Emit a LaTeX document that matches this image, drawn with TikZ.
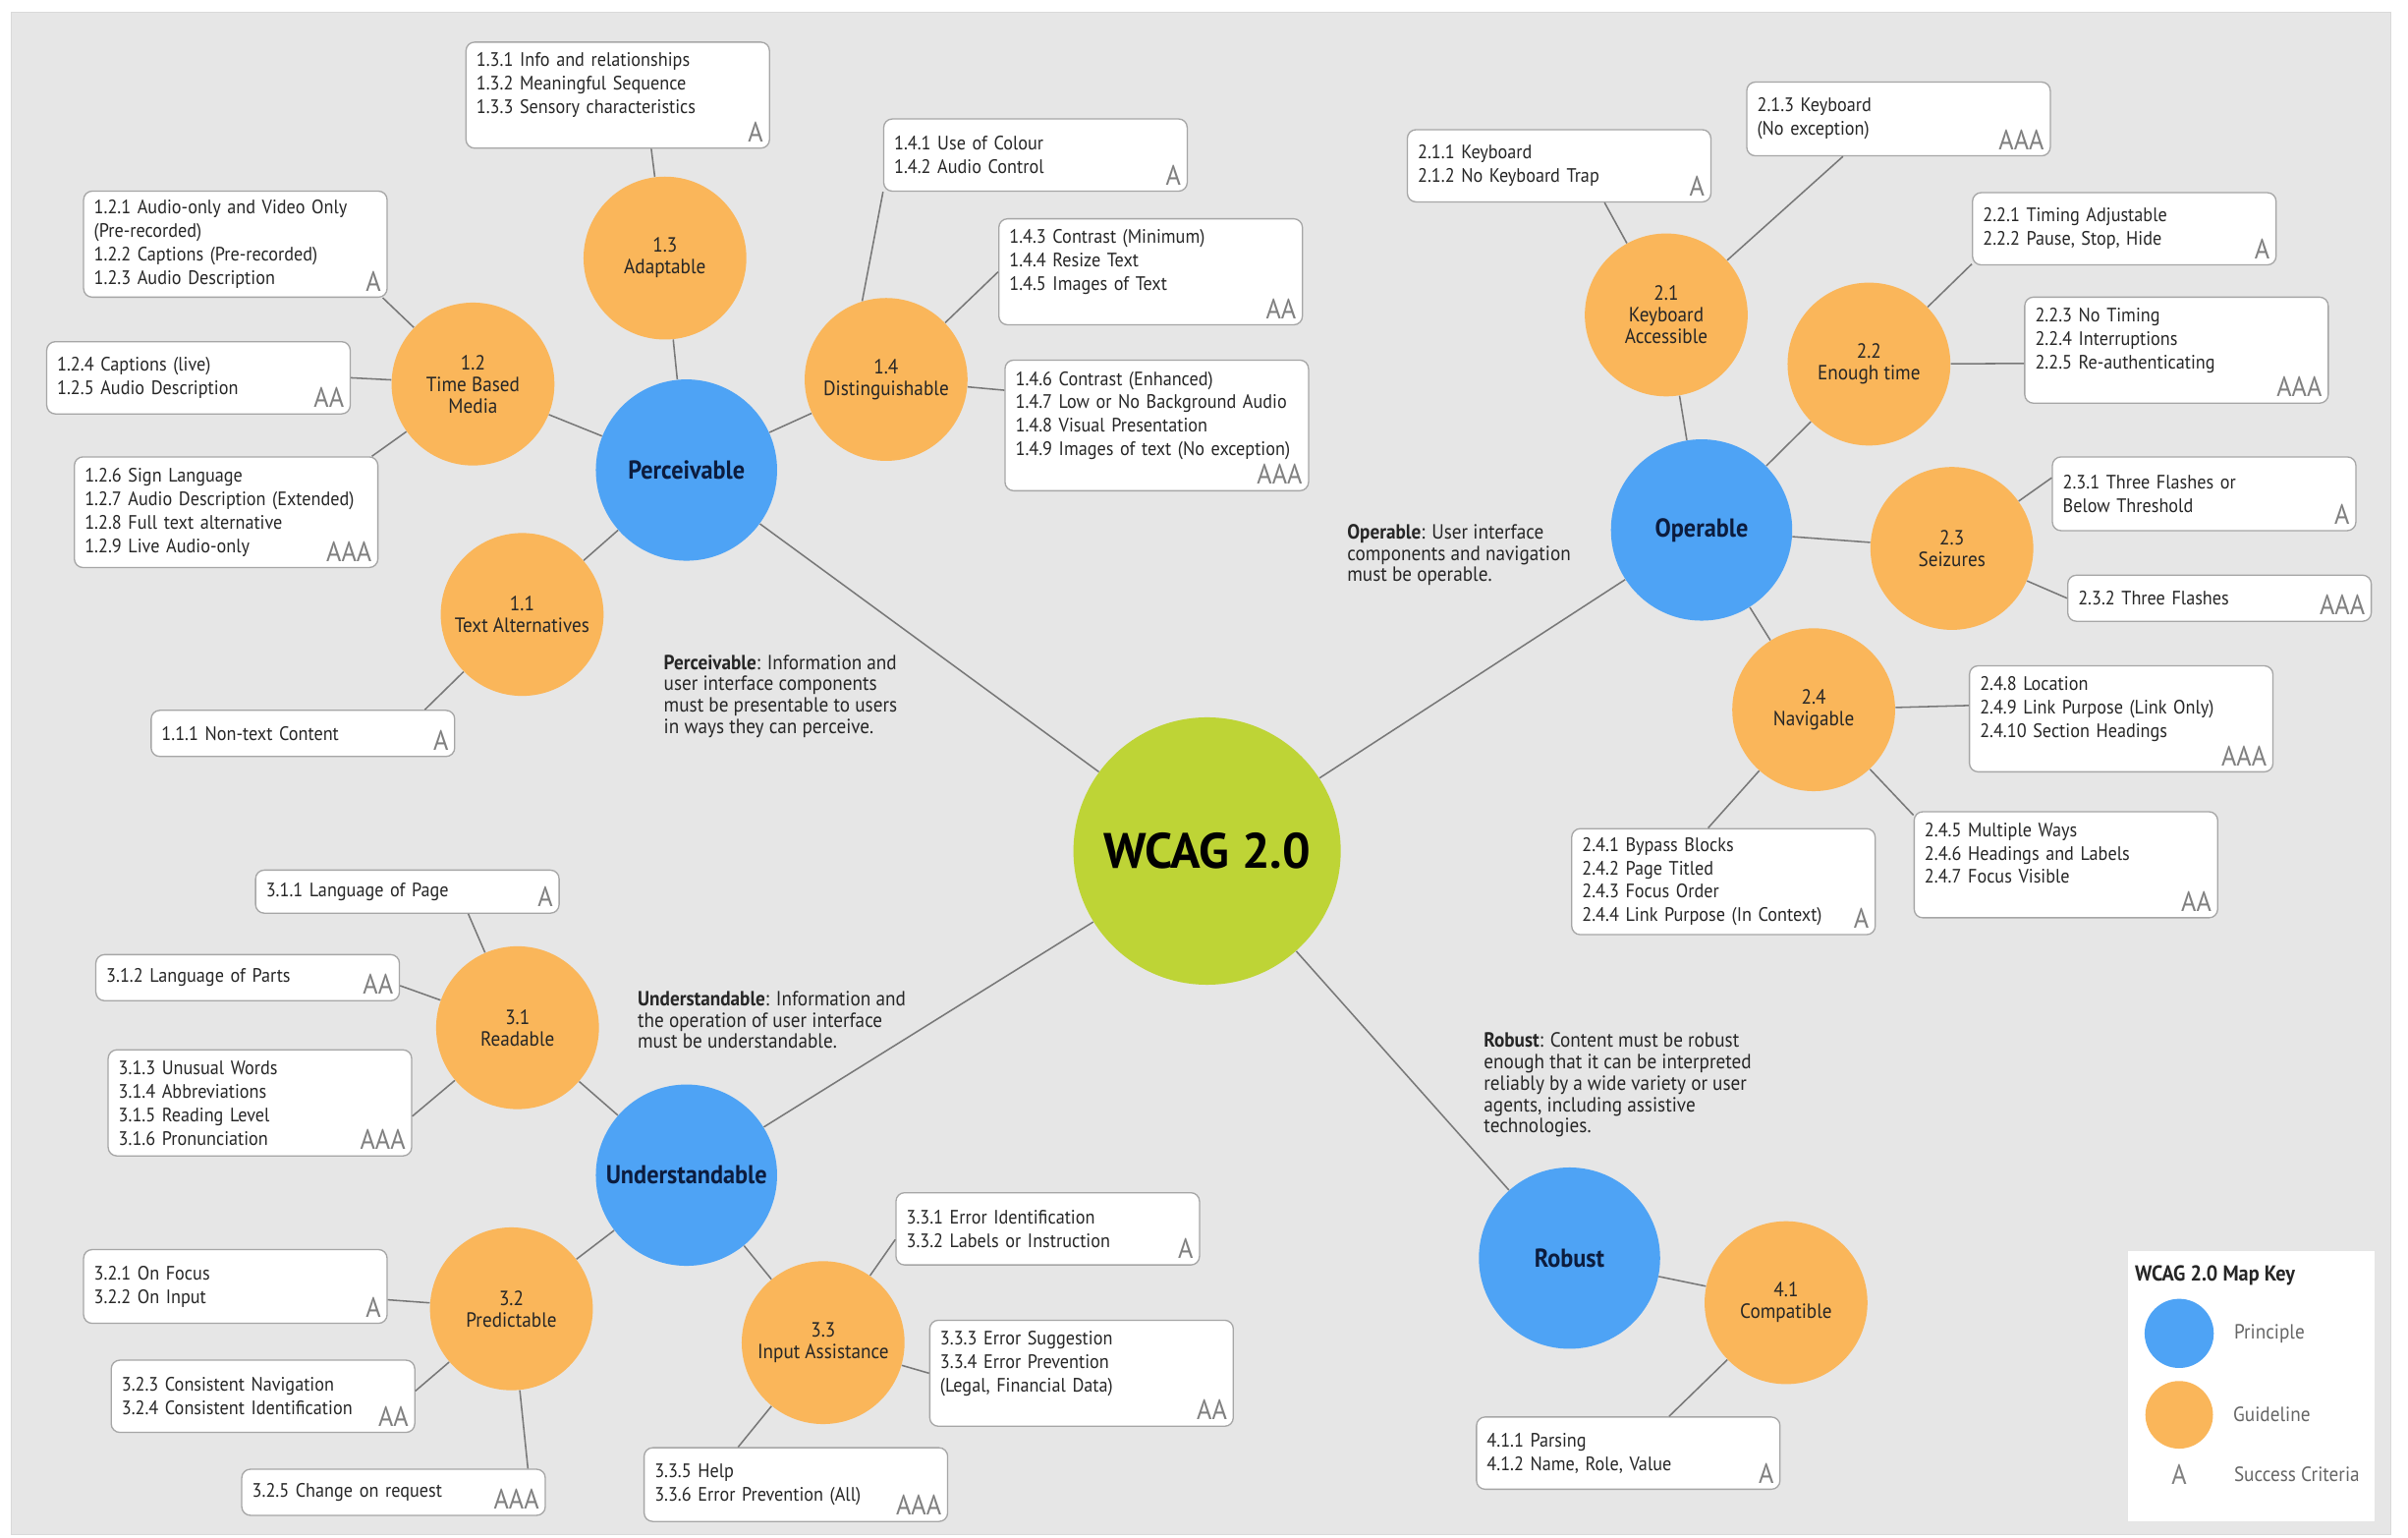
\documentclass[tikz,border=0pt]{standalone}
\usepackage{fontspec}
\setmainfont[FakeStretch=0.92]{PT Sans}
\newfontfamily\titlefont{PT Sans}
\usepackage{tikz}
\usetikzlibrary{positioning}

\definecolor{mapbg}{RGB}{230,230,230}
\definecolor{princblue}{RGB}{78,163,245}
\definecolor{guideorange}{RGB}{250,182,90}
\definecolor{wcaglime}{RGB}{190,212,54}
\definecolor{princtext}{RGB}{12,28,62}
\definecolor{linkgrey}{RGB}{120,120,120}

\begin{document}
\begin{tikzpicture}[x=0.025cm, y=-0.025cm,
    princ/.style={circle, fill=princblue, minimum size=2.95cm, inner sep=0pt,
      text=princtext, font=\bfseries\fontsize{12}{14}\selectfont},
    guide/.style={circle, fill=guideorange, minimum size=2.65cm, inner sep=0pt,
      align=center, text=black!85, font=\fontsize{9.5}{10}\selectfont},
    critbox/.style={draw=black!35, line width=0.6pt, fill=white, rounded corners=4pt,
      anchor=north west, text width=4.6cm, inner xsep=0.17cm, inner ysep=0.1cm,
      align=left, minimum height=#1, text=black!85, font=\fontsize{9}{10.9}\selectfont},
    critbox/.default=0.75cm,
    critlevel/.style={anchor=south east, inner sep=3pt, text=black!50,
      font=\fontsize{13}{13}\selectfont},
    desc/.style={anchor=north west, align=left, inner sep=0pt, text=black!85,
      font=\fontsize{9.5}{9.9}\selectfont},
    keytext/.style={text=black!60, font=\fontsize{9.5}{10}\selectfont},
    link/.style={draw=linkgrey, line width=0.7pt}]
  \useasboundingbox (0,0) rectangle (1568,1001);
  \filldraw[fill=mapbg, draw=black!15] (7,8) rectangle (1557,999);

  % centre and principles
  \node[circle, fill=wcaglime, minimum size=4.35cm,
        font=\titlefont\bfseries\fontsize{23}{26}\selectfont] (wcag) at (786,554) {WCAG 2.0};
  \node[princ] (perc) at (447,306) {Perceivable};
  \node[princ] (oper) at (1108,345) {Operable};
  \node[princ] (under) at (447,765) {Understandable};
  \node[princ] (rob) at (1022,819) {Robust};

  % guidelines
  \node[guide] (g11) at (340,400) {1.1\\Text Alternatives};
  \node[guide] (g12) at (308,250) {1.2\\Time Based\\Media};
  \node[guide] (g13) at (433,168) {1.3\\Adaptable};
  \node[guide] (g14) at (577,247) {1.4\\Distinguishable};
  \node[guide] (g21) at (1085,205) {2.1\\Keyboard\\Accessible};
  \node[guide] (g22) at (1217,237) {2.2\\Enough time};
  \node[guide] (g23) at (1271,357) {2.3\\Seizures};
  \node[guide] (g24) at (1181,462) {2.4\\Navigable};
  \node[guide] (g31) at (337,669) {3.1\\Readable};
  \node[guide] (g32) at (333,852) {3.2\\Predictable};
  \node[guide] (g33) at (536,874) {3.3\\Input Assistance};
  \node[guide] (g41) at (1163,848) {4.1\\Compatible};

  % success criteria, perceivable
  \node[critbox=1.725cm, label={[critlevel]south east:A}] (sc13) at (303,27)
    {1.3.1 Info and relationships\\1.3.2 Meaningful Sequence\\1.3.3 Sensory characteristics\\~};
  \node[critbox=1.725cm, label={[critlevel]south east:A}] (sc12a) at (54,124)
    {1.2.1 Audio-only and Video Only\\(Pre-recorded)\\1.2.2 Captions (Pre-recorded)\\1.2.3 Audio Description};
  \node[critbox=1.175cm, label={[critlevel]south east:AA}] (sc12b) at (30,222)
    {1.2.4 Captions (live)\\1.2.5 Audio Description};
  \node[critbox=1.8cm, label={[critlevel]south east:AAA}] (sc12c) at (48,297)
    {1.2.6 Sign Language\\1.2.7 Audio Description (Extended)\\1.2.8 Full text alternative\\1.2.9 Live Audio-only};
  \node[critbox, label={[critlevel]south east:A}] (sc11) at (98,462)
    {1.1.1 Non-text Content};
  \node[critbox=1.175cm, label={[critlevel]south east:A}] (sc141) at (575,77)
    {1.4.1 Use of Colour\\1.4.2 Audio Control};
  \node[critbox=1.725cm, label={[critlevel]south east:AA}] (sc143) at (650,142)
    {1.4.3 Contrast (Minimum)\\1.4.4 Resize Text\\1.4.5 Images of Text\\~};
  \node[critbox=2.125cm, label={[critlevel]south east:AAA}] (sc146) at (654,234)
    {1.4.6 Contrast (Enhanced)\\1.4.7 Low or No Background Audio\\1.4.8 Visual Presentation\\1.4.9 Images of text (No exception)\\~};

  % success criteria, operable
  \node[critbox=1.175cm, label={[critlevel]south east:A}] (sc211) at (916,84)
    {2.1.1 Keyboard\\2.1.2 No Keyboard Trap};
  \node[critbox=1.2cm, label={[critlevel]south east:AAA}] (sc213) at (1137,53)
    {2.1.3 Keyboard\\(No exception)};
  \node[critbox=1.175cm, label={[critlevel]south east:A}] (sc221) at (1284,125)
    {2.2.1 Timing Adjustable\\2.2.2 Pause, Stop, Hide};
  \node[critbox=1.725cm, label={[critlevel]south east:AAA}] (sc223) at (1318,193)
    {2.2.3 No Timing\\2.2.4 Interruptions\\2.2.5 Re-authenticating\\~};
  \node[critbox=1.2cm, label={[critlevel]south east:A}] (sc231) at (1336,297)
    {2.3.1 Three Flashes or\\Below Threshold};
  \node[critbox, label={[critlevel]south east:AAA}] (sc232) at (1346,374)
    {2.3.2 Three Flashes};
  \node[critbox=1.725cm, label={[critlevel]south east:AAA}] (sc248) at (1282,433)
    {2.4.8 Location\\2.4.9 Link Purpose (Link Only)\\2.4.10 Section Headings\\~};
  \node[critbox=1.725cm, label={[critlevel]south east:A}] (sc241) at (1023,539)
    {2.4.1 Bypass Blocks\\2.4.2 Page Titled\\2.4.3 Focus Order\\2.4.4 Link Purpose (In Context)};
  \node[critbox=1.725cm, label={[critlevel]south east:AA}] (sc245) at (1246,528)
    {2.4.5 Multiple Ways\\2.4.6 Headings and Labels\\2.4.7 Focus Visible\\~};

  % success criteria, understandable
  \node[critbox=0.7cm, label={[critlevel]south east:A}] (sc311) at (166,566)
    {3.1.1 Language of Page};
  \node[critbox, label={[critlevel]south east:AA}] (sc312) at (62,621)
    {3.1.2 Language of Parts};
  \node[critbox=1.725cm, label={[critlevel]south east:AAA}] (sc313) at (70,683)
    {3.1.3 Unusual Words\\3.1.4 Abbreviations\\3.1.5 Reading Level\\3.1.6 Pronunciation};
  \node[critbox=1.2cm, label={[critlevel]south east:A}] (sc321) at (54,813)
    {3.2.1 On Focus\\3.2.2 On Input};
  \node[critbox=1.175cm, label={[critlevel]south east:AA}] (sc323) at (72,885)
    {3.2.3 Consistent Navigation\\3.2.4 Consistent Identification};
  \node[critbox, label={[critlevel]south east:AAA}] (sc325) at (157,956)
    {3.2.5 Change on request};
  \node[critbox=1.175cm, label={[critlevel]south east:A}] (sc331) at (583,776)
    {3.3.1 Error Identification\\3.3.2 Labels or Instruction};
  \node[critbox=1.725cm, label={[critlevel]south east:AA}] (sc333) at (605,859)
    {3.3.3 Error Suggestion\\3.3.4 Error Prevention\\(Legal, Financial Data)\\~};
  \node[critbox=1.2cm, label={[critlevel]south east:AAA}] (sc335) at (419,942)
    {3.3.5 Help\\3.3.6 Error Prevention (All)};

  % success criteria, robust
  \node[critbox=1.175cm, label={[critlevel]south east:A}] (sc411) at (961,922)
    {4.1.1 Parsing\\4.1.2 Name, Role, Value};

  % principle descriptions
  \node[desc] (percdesc) at (432,426) {\textbf{Perceivable}: Information and\\user interface components\\must be presentable to users\\in ways they can perceive.};
  \node[desc] (operdesc) at (877,341) {\textbf{Operable}: User interface\\components and navigation\\must be operable.};
  \node[desc] (underdesc) at (415,645) {\textbf{Understandable}: Information and\\the operation of user interface\\must be understandable.};
  \node[desc] (robdesc) at (966,672) {\textbf{Robust}: Content must be robust\\enough that it can be interpreted\\reliably by a wide variety or user\\agents, including assistive\\technologies.};

  % map key
  \node[draw=black!10, fill=white, anchor=north west, minimum width=4.025cm,
        minimum height=4.4cm] (key) at (1385,814) {};
  \node[anchor=west, inner sep=0pt, text=black!85,
        font=\bfseries\fontsize{10}{11}\selectfont] (keytitle) at (1390,830) {WCAG 2.0 Map Key};
  \node[circle, fill=princblue, minimum size=1.125cm, inner sep=0pt] (keyp) at (1419,868) {};
  \node[circle, fill=guideorange, minimum size=1.1cm, inner sep=0pt] (keyg) at (1419,921) {};
  \node[text=black!50, font=\fontsize{13}{13}\selectfont, inner sep=0pt] (keya) at (1419,960) {A};
  \node[keytext, right=0.2cm of keyp] (keyptxt) {Principle};
  \node[keytext, right=0.2cm of keyg] (keygtxt) {Guideline};
  \node[keytext, anchor=west] (keyatxt) at (keya -| keyptxt.west) {Success Criteria};

  % connectors
  \draw[link] (wcag) -- (perc);
  \draw[link] (wcag) -- (oper);
  \draw[link] (wcag) -- (under);
  \draw[link] (wcag) -- (rob);
  \foreach \g in {g11, g12, g13, g14} \draw[link] (perc) -- (\g);
  \foreach \g in {g21, g22, g23, g24} \draw[link] (oper) -- (\g);
  \foreach \g in {g31, g32, g33} \draw[link] (under) -- (\g);
  \draw[link] (rob) -- (g41);

  \draw[link] (g13) -- (sc13.-58);
  \draw[link] (g12) -- (sc12a.-20);
  \draw[link] (g12) -- (sc12b.east);
  \draw[link] (g12) -- (sc12c.21);
  \draw[link] (g11) -- (sc11.11);
  \draw[link] (g14.107) -- (sc141.south west);
  \draw[link] (g14) -- (sc143.west);
  \draw[link] (g14) -- (sc146.167);
  \draw[link] (g21) -- (sc211.-39);
  \draw[link] (g21) -- (sc213.-146);
  \draw[link] (g22) -- (sc221.-167);
  \draw[link] (g22) -- (sc223.-175);
  \draw[link] (g23) -- (sc231.174);
  \draw[link] (g23) -- (sc232.west);
  \draw[link] (g24) -- (sc248.175);
  \draw[link] (g24) -- (sc241.106);
  \draw[link] (g24) -- (sc245.162);
  \draw[link] (g31) -- (sc311.-20);
  \draw[link] (g31) -- (sc312.-3);
  \draw[link] (g31) -- (sc313.-5);
  \draw[link] (g32) -- (sc321.-5);
  \draw[link] (g32) -- (sc323.2);
  \draw[link] (g32) -- (sc325.10);
  \draw[link] (g33) -- (sc331.-176);
  \draw[link] (g33) -- (sc333.west);
  \draw[link] (g33) -- (sc335.147);
  \draw[link] (g41) -- (sc411.42);
\end{tikzpicture}
\end{document}
